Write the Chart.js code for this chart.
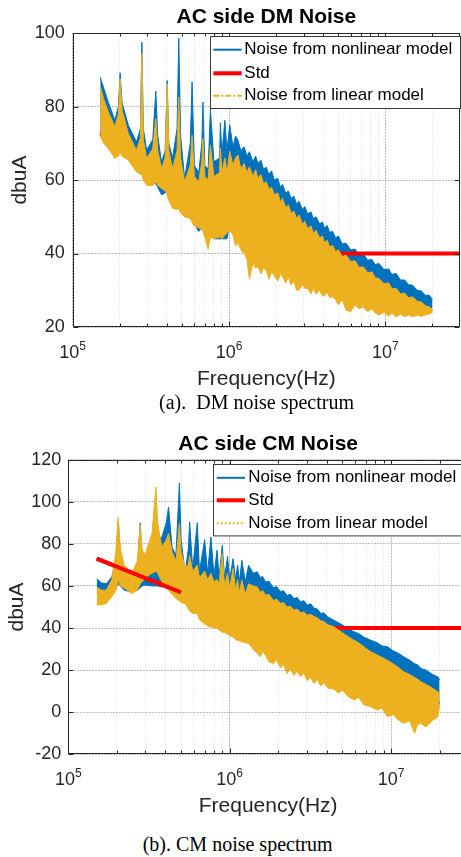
<!DOCTYPE html>
<html>
<head>
<meta charset="utf-8">
<script src="https://cdn.jsdelivr.net/npm/chart.js@4.4.0/dist/chart.umd.min.js"></script>
<style>
  html, body { margin: 0; padding: 0; background: #fff; }
  body { width: 461px; height: 857px; position: relative; overflow: hidden; }
  .box { position: absolute; left: 0; }
  .cap { position: absolute; font-family: "Liberation Serif", "Times New Roman", serif; font-size: 20px; line-height: 20px; color: #000; white-space: pre; }
</style>
</head>
<body>
<div class="box" style="top:0;width:461px;height:395px"><canvas id="dmChart"></canvas></div>
<div class="cap" style="left:159px;top:391.5px">(a).  DM noise spectrum</div>
<div class="box" style="top:420px;width:470px;height:402px"><canvas id="cmChart"></canvas></div>
<div class="cap" style="left:142.7px;top:834px">(b). CM noise spectrum</div>
<script>
// ---------- DM noise (frequency in kHz, level in dBuA) ----------
const dmFreq = [150, 158, 169, 186, 196, 201, 207, 227, 256, 271, 277, 283, 297, 325, 340, 350, 370, 390, 402, 412,
  435, 465, 477, 490, 520, 565, 580, 600, 640, 670, 680, 700, 735, 760, 800, 870, 880, 900, 940, 970,
  1010, 1060, 1100, 1140, 1190, 1250, 1300, 1350, 1420, 1480, 1530, 1600, 1660, 1730, 1800, 1870, 1950, 2050, 2130, 2200,
  2300, 2400, 2490, 2600, 2700, 2800, 2950, 3050, 3180, 3350, 3450, 3600, 3800, 3950, 4070, 4250, 4390, 4600, 4800, 5000,
  5300, 5600, 6000, 6400, 6800, 7200, 7700, 8200, 8600, 9100, 9800, 10500, 11000, 11700, 12500, 13300, 14000, 14900, 16000, 17000,
  18000, 19000, 20000];
const dmNonlinHigh = [88, 85, 81.2, 76.3, 80, 89.2, 81, 74.9, 70.4, 74, 97.5, 74, 68.1, 71, 84.2, 72, 64.9, 68, 87.1, 70,
  65.9, 74, 98.6, 72, 60.4, 70, 86.7, 64, 62, 70, 81.2, 64, 63, 79.3, 65, 66, 75.6, 67, 76.3, 68,
  75, 69, 72, 70.8, 68, 69, 66.5, 67.7, 65, 66.5, 64.5, 65.4, 63, 63.5, 61.5, 62.5, 60, 60.5, 58, 58.8,
  56.5, 57, 55, 55.6, 53.5, 54.2, 52, 52.8, 50.8, 51.3, 49.5, 50, 48, 48.6, 47, 47.6, 45.8, 46, 44.2, 44.8,
  42.6, 42.8, 41, 41.2, 39.5, 40, 38.2, 38.4, 37, 37.3, 35.6, 35.8, 34.3, 34.6, 32.8, 32.8, 31.5, 31.4, 30, 29.8,
  28.6, 28.7, 27.5];
const dmNonlinLow = [73, 71, 70, 68, 68, 69, 68, 66, 63, 62, 62, 61, 60, 59, 59, 58, 56, 56.5, 57, 56,
  54, 53, 54, 52, 50, 50, 50, 48, 46, 47, 47, 45, 43, 45, 44, 44, 44, 44, 44, 44,
  48, 47, 44, 45, 43, 42, 40, 35, 39, 38, 38, 36, 38, 37, 35, 37, 36, 34, 36, 35,
  34, 35, 33, 34, 32, 32, 33, 32, 32, 31, 32, 31, 32, 30, 30, 31, 30, 30, 29, 28,
  29, 26, 26, 28, 27, 27, 26, 27, 25.5, 25, 26, 25, 25.5, 24.5, 25, 24.5, 25, 24.5, 25, 24.5,
  25, 25, 24.5];
const dmLinHigh = [85.6, 82, 78.5, 74.5, 78, 87.6, 79, 72.6, 68.1, 71.5, 94.5, 71, 65.9, 68.5, 76.7, 68, 63.1, 66, 86.2, 68,
  63.1, 68, 82.6, 66, 59.5, 64, 72.2, 61, 59.5, 65, 71.3, 61, 60, 69.5, 61, 62, 68.7, 62, 66, 62,
  67.8, 64, 66, 66.8, 63, 64.5, 62, 63.6, 61, 62.8, 60.5, 61.5, 59, 59.5, 57.5, 58, 56, 56.5, 54, 55,
  52.5, 53.2, 51, 51.5, 49.5, 50.5, 48, 48.8, 46.8, 47.5, 45.5, 46.3, 44.2, 44.8, 43, 43.6, 41.8, 42.2, 40.5, 41,
  39.2, 39.6, 37.8, 38, 36.2, 36.4, 34.8, 35, 33.4, 33.2, 31.8, 32, 30.4, 30.5, 29, 29.2, 28, 28.2, 27, 26.8,
  25.8, 25.5, 24.8];
const dmLinLow = [72, 70, 68.6, 65.9, 66.5, 67.5, 66.5, 65.4, 62.2, 61.5, 61.5, 60, 58.6, 58.5, 59.5, 58.5, 57.7, 57, 56, 54.5,
  52.3, 52, 52.3, 51, 50, 49.5, 48.5, 47.5, 47, 46.5, 46, 44.5, 41.2, 44.5, 44, 44.5, 44.5, 44, 45, 45.5,
  46.4, 45, 42, 43, 41, 40, 38.5, 33, 37.4, 36, 36.5, 34.5, 36, 35.5, 33, 35, 34, 32.5, 34.5, 33.7,
  32, 33.5, 31.5, 32.5, 30, 30.1, 31.5, 30.5, 30.5, 29, 30.5, 29, 30, 28.5, 28.5, 29.5, 28, 28.2, 27.5, 26,
  27.5, 24.6, 24.2, 26, 25, 25.5, 24.2, 25, 23.8, 23.3, 24, 23, 23.8, 22.8, 23.5, 22.8, 23.3, 22.8, 23.2, 22.9,
  23.3, 23.5, 24];
const dmStdFreq = [150, 290, 402, 510, 820, 1500, 2500, 5100, 30000];
const dmStd = [72.7, 65, 60.2, 57.7, 50.9, 46, 43, 40, 40];

// ---------- CM noise (frequency in kHz, level in dBuA) ----------
const cmFreq = [150, 160, 172, 186, 197, 204, 210, 222, 248, 268, 279, 287, 300, 330, 349, 358, 380, 405, 418, 440,
  465, 488, 500, 530, 555, 565, 590, 630, 650, 700, 730, 765, 800, 835, 860, 900, 930, 970, 1000, 1050,
  1090, 1120, 1150, 1190, 1250,
  1310, 1400, 1480, 1550, 1600, 1670, 1750, 1870, 1950, 2070, 2150, 2270, 2380, 2500, 2620, 2750, 2880, 3030, 3180, 3330,
  3500, 3660, 3850, 4050, 4430, 4700, 5000, 5400, 5900, 6300, 6800, 7500, 8200, 8800, 9500, 10300, 11000, 12000, 13000, 14000,
  14600, 15300, 16500, 18000, 19500, 20000];
const cmNonlinHigh = [63.5, 61.5, 61, 64.3, 72, 91, 75, 66, 62.7, 68, 90, 72, 64, 72, 92, 82, 83.3, 90, 97.5, 78,
  75, 108.9, 82, 66, 78, 90.5, 68, 90, 67, 82, 66, 83.3, 65, 77, 64, 79.3, 64, 74, 63, 73,
  63, 70, 62, 72.2, 62,
  69.8, 66, 66.7, 64, 64.5, 61.9, 62.3, 59, 59.8, 57.2, 57.8, 55.5, 56, 54, 54.5, 52.5, 53, 50.9, 51.5, 49.5,
  49, 47, 47.2, 45.3, 43.7, 42.6, 41.5, 39.6, 38.2, 37.4, 35.6, 34.2, 33, 31.5, 31.1, 29.2, 28.2, 26.3, 24.8, 23,
  22.6, 20.8, 20, 18, 16.8, 15.5];
const cmNonlinLow = [57, 56, 56, 57, 59, 61, 60, 58, 57, 58, 59, 60, 60.4, 60, 60, 60, 59.5, 60, 60, 58,
  59, 62, 60, 56, 52, 50, 49, 48, 47, 45, 44, 43, 43, 42, 41, 41, 40, 40, 39, 39,
  38, 38, 37, 36, 35,
  34, 33, 30, 28, 30, 29, 26, 25, 27, 23, 25, 20, 22, 19, 21, 18, 20, 17, 18, 15,
  17, 14, 15, 13, 12, 10, 12, 9, 8, 8, 5, 5, 3, 3, 1, 1, -1, -2, -2, -4,
  -3, -2, -3, -1, 1, 5];
const cmLinHigh = [59.5, 58, 58, 63, 76, 92.5, 78, 70, 65.9, 72, 89, 77, 75, 85, 107, 90, 78.5, 82, 85, 76,
  72, 89.6, 76, 69, 70, 74.5, 67, 70, 64, 67, 63, 66, 62, 63, 61, 75.4, 60, 66, 59, 68.3,
  58, 63, 57, 62.7, 56,
  61, 60, 59.5, 57, 57.8, 55.6, 56, 53, 53.8, 51.7, 52.2, 50, 50.4, 48.5, 49, 47.3, 47.6, 46.1, 46.5, 45.5,
  44.8, 43.5, 43, 41.6, 40.6, 39.2, 37.8, 36, 34.2, 33, 31, 28.7, 27.2, 26, 24.7, 23, 21.5, 19.2, 18, 16.5,
  15.8, 14.4, 13.2, 11.5, 9.7, 8];
const cmLinLow = [51, 51, 51.7, 54.8, 58, 63, 60, 59, 56.4, 58, 61, 62, 64, 66, 67, 66, 62, 60, 58, 56,
  54, 53, 52, 51.7, 49, 48, 47, 46.9, 44, 42, 41, 40.6, 40, 40, 39, 38, 38, 37, 36.5, 35.8,
  34.5, 34, 34, 33.5, 33,
  32.7, 30, 28, 26.3, 29, 27, 24, 23.2, 25, 21, 23, 18.4, 20.5, 17.5, 19.5, 16.9, 18.5, 15, 16.5, 13.7,
  15.5, 12.5, 14, 11.5, 11, 9, 10.5, 7.5, 5.8, 7, 3.5, 2.6, 1, 2, -2.2, -1, -3.5, -5.3, -4, -10,
  -6, -5.3, -7, -4, -2.2, 3];
const cmStdFreq = [150, 500, 640, 900, 1280, 2700, 30000];
const cmStd = [73, 56.9, 54, 50, 48, 40, 40];

// axis tick labels
const decadeTicks = [1e5, 1e6, 1e7];
const decadeExps = ['5', '6', '7'];

const BLUE = '#0072BD';
const RED = '#FF0000';
const YELLOW = '#EDB120';
const AXIS = '#262626';
const SANS = '"Liberation Sans", Arial, Helvetica, sans-serif';

Chart.defaults.font.family = SANS;

function pts(freq, vals) {
  return freq.map((f, i) => ({x: f * 1e3, y: vals[i]}));
}

// all 1..9 x 10^n ticks, decades are major
function logTicks(min, max) {
  const out = [];
  for (let e = 5; e <= 7; e++) {
    for (let m = 1; m <= 9; m++) {
      const v = m * Math.pow(10, e);
      if (v >= min && v <= max) out.push({value: v, major: m === 1});
    }
  }
  return out;
}

// box, inward ticks, 10^n labels and legend like matlab
const matlabAxes = {
  id: 'matlabAxes',
  afterDatasetsDraw(chart, args, opts) {
    const {ctx, chartArea: a} = chart;
    const xs = chart.scales.x;
    const ys = chart.scales.y;
    const L = Math.round(a.left) + 0.5, R = Math.round(a.right) - 0.5;
    const T = Math.round(a.top) + 0.5, B = Math.round(a.bottom) - 0.5;
    ctx.save();
    ctx.strokeStyle = AXIS;
    ctx.lineWidth = 1;
    ctx.beginPath();
    ctx.moveTo(L, T); ctx.lineTo(L, B); ctx.lineTo(R, B);
    ctx.moveTo(L, T); ctx.lineTo(R, T);
    if (opts.rightEdge) { ctx.moveTo(R, T); ctx.lineTo(R, B); }
    xs.ticks.forEach(t => {
      const px = Math.round(xs.getPixelForValue(t.value)) + 0.5;
      if (px < a.left || px > a.right) return;
      const len = t.major ? 5 : 3;
      ctx.moveTo(px, B); ctx.lineTo(px, B - len);
      ctx.moveTo(px, T); ctx.lineTo(px, T + len);
    });
    ys.ticks.forEach(t => {
      const py = Math.round(ys.getPixelForValue(t.value)) + 0.5;
      ctx.moveTo(L, py); ctx.lineTo(L + 5, py);
      if (opts.rightEdge) { ctx.moveTo(R, py); ctx.lineTo(R - 5, py); }
    });
    ctx.stroke();

    // x tick labels with superscript
    ctx.fillStyle = AXIS;
    ctx.textBaseline = 'alphabetic';
    ctx.textAlign = 'left';
    decadeTicks.forEach((v, i) => {
      const px = xs.getPixelForValue(v);
      ctx.font = '18px ' + SANS;
      const wb = ctx.measureText('10').width;
      ctx.font = '12px ' + SANS;
      const we = ctx.measureText(decadeExps[i]).width;
      const left = px - (wb + we) / 2;
      ctx.font = '18px ' + SANS;
      ctx.fillText('10', left, a.bottom + 31);
      ctx.font = '12px ' + SANS;
      ctx.fillText(decadeExps[i], left + wb, a.bottom + 22.5);
    });

    // legend
    const lg = opts.legend;
    ctx.fillStyle = '#fff';
    ctx.fillRect(lg.x, lg.y, lg.w, lg.h);
    ctx.strokeStyle = '#3a3a3a';
    ctx.strokeRect(Math.round(lg.x) + 0.5, Math.round(lg.y) + 0.5, lg.w, lg.h);
    const items = chart.data.datasets.filter(d => !d.label.startsWith('_'));
    items.forEach((d, i) => {
      const y = lg.rows[i];
      const st = lg.styles[i];
      ctx.beginPath();
      ctx.setLineDash(st.dash);
      ctx.lineWidth = st.width;
      ctx.strokeStyle = d.borderColor;
      ctx.moveTo(lg.lineX0, y); ctx.lineTo(lg.lineX1, y);
      ctx.stroke();
      ctx.setLineDash([]);
      ctx.fillStyle = '#000';
      ctx.font = '17px ' + SANS;
      ctx.textBaseline = 'middle';
      ctx.fillText(d.label, lg.textX, y);
    });
    ctx.restore();
  }
};

function makeDatasets(freq, nonHi, nonLo, linHi, linLo, stdFreq, std, stdOnTopBelow) {
  const sets = [
    {label: 'Noise from nonlinear model', data: pts(freq, nonHi), borderColor: BLUE, backgroundColor: BLUE, borderWidth: 1, fill: false, order: 3},
    {label: '_nonlinLow', data: pts(freq, nonLo), borderColor: BLUE, backgroundColor: BLUE, borderWidth: 1, fill: '-1', order: 3},
    {label: 'Std', data: pts(stdFreq, std), borderColor: RED, borderWidth: 4, fill: false, order: 2},
    {label: 'Noise from linear model', data: pts(freq, linHi), borderColor: YELLOW, backgroundColor: YELLOW, borderWidth: 1, fill: false, order: 1},
    {label: '_linLow', data: pts(freq, linLo), borderColor: YELLOW, backgroundColor: YELLOW, borderWidth: 1, fill: '-1', order: 1}
  ];
  if (stdOnTopBelow) {
    // std shows through the sparse dotted linear trace at low frequency
    sets.push({label: '_stdTop', data: pts(stdFreq, std), borderColor: RED, borderWidth: 4, fill: false, order: 0,
      segment: {borderColor: c => c.p0.parsed.x < stdOnTopBelow ? RED : 'rgba(0,0,0,0)'}});
  }
  return sets;
}

function makeChart(id, s) {
  return new Chart(document.getElementById(id), {
    type: 'line',
    data: {datasets: s.datasets},
    options: {
      responsive: true,
      maintainAspectRatio: false,
      animation: false,
      events: [],
      layout: {padding: {left: 0, top: 0, right: s.padRight, bottom: 0}},
      elements: {point: {radius: 0}, line: {tension: 0, borderJoinStyle: 'bevel'}},
      plugins: {
        legend: {display: false},
        tooltip: {enabled: false},
        title: {
          display: true, fullSize: false, text: s.title, color: '#000',
          font: {size: 21, weight: 'bold', family: SANS}, padding: s.titlePad
        },
        matlabAxes: {legend: s.legend, rightEdge: s.rightEdge}
      },
      scales: {
        x: {
          type: 'logarithmic', min: 1e5, max: 3e7,
          afterBuildTicks: sc => { sc.ticks = logTicks(sc.min, sc.max); },
          afterFit: sc => { sc.height = s.xHeight; },
          ticks: {display: false, autoSkip: false},
          grid: {
            color: c => (c.tick && c.tick.major) ? 'rgba(0,0,0,0.28)' : 'rgba(0,0,0,0.12)',
            lineWidth: 1, drawTicks: false
          },
          border: {display: false, dash: c => (c.tick && c.tick.major) ? [2, 1] : [1, 2]},
          title: {display: true, text: 'Frequency(Hz)', color: AXIS, font: {size: 21, family: SANS}, padding: {top: 0, bottom: s.xTitlePad}}
        },
        y: {
          min: s.yMin, max: s.yMax,
          afterFit: sc => { sc.width = s.yWidth; },
          ticks: {stepSize: 20, color: AXIS, font: {size: 18, family: SANS}, padding: s.yTickPad},
          grid: {color: 'rgba(0,0,0,0.25)', lineWidth: 1, drawTicks: false},
          border: {display: false, dash: [2, 1]},
          title: {display: true, text: 'dbuA', color: AXIS, font: {size: 21, family: SANS}, padding: {top: s.yTitlePad, bottom: 0}}
        }
      }
    },
    plugins: [matlabAxes]
  });
}

makeChart('dmChart', {
  title: 'AC side DM Noise',
  datasets: makeDatasets(dmFreq, dmNonlinHigh, dmNonlinLow, dmLinHigh, dmLinLow, dmStdFreq, dmStd, 0),
  yMin: 20, yMax: 100,
  padRight: 1, yWidth: 72.7, xHeight: 68,
  titlePad: {top: 4.6, bottom: 3.3},
  yTitlePad: 7.4, xTitlePad: 2.7, yTickPad: 8,
  rightEdge: true,
  legend: {
    x: 210, y: 36, w: 250, h: 72,
    rows: [49.7, 73.3, 95.8],
    lineX0: 213.3, lineX1: 241.7, textX: 244.3,
    styles: [{width: 2, dash: []}, {width: 4, dash: []}, {width: 2, dash: [6, 2, 2, 2]}]
  }
});

makeChart('cmChart', {
  title: 'AC side CM Noise',
  datasets: makeDatasets(cmFreq, cmNonlinHigh, cmNonlinLow, cmLinHigh, cmLinLow, cmStdFreq, cmStd, 500e3),
  yMin: -20, yMax: 120,
  padRight: 2, yWidth: 68.3, xHeight: 67.7,
  titlePad: {top: 11.3, bottom: 3.2},
  yTitlePad: 4.4, xTitlePad: 3.2, yTickPad: 7,
  rightEdge: false,
  legend: {
    x: 213.3, y: 44.3, w: 254, h: 71.4,
    rows: [57.8, 80.3, 103.3],
    lineX0: 216.7, lineX1: 245, textX: 248.3,
    styles: [{width: 2, dash: []}, {width: 4, dash: []}, {width: 2, dash: [2, 2]}]
  }
});
</script>
</body>
</html>
